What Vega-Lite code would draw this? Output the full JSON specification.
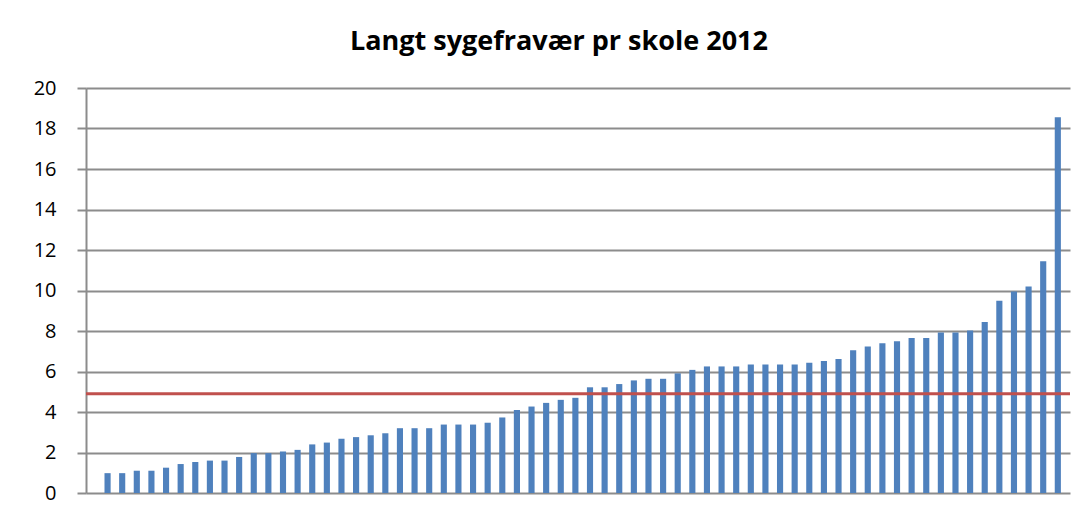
{
  "$schema": "https://vega.github.io/schema/vega-lite/v6.json",
  "width": 984,
  "height": 405,
  "autosize": {"type": "none"},
  "padding": {"left": 86, "top": 88, "right": 18, "bottom": 21},
  "background": "white",
  "config": {"view": {"stroke": null}, "font": "Open Sans"},
  "title": {
    "text": "Langt sygefravær pr skole 2012",
    "font": "Open Sans",
    "fontSize": 27,
    "fontWeight": "bold",
    "color": "#000000",
    "anchor": "middle",
    "dx": -19,
    "offset": 22
  },
  "data": {
    "values": [
      {"skole": 1, "fravaer": 0.98}, {"skole": 2, "fravaer": 0.98}, {"skole": 3, "fravaer": 1.1},
      {"skole": 4, "fravaer": 1.1}, {"skole": 5, "fravaer": 1.25}, {"skole": 6, "fravaer": 1.43},
      {"skole": 7, "fravaer": 1.53}, {"skole": 8, "fravaer": 1.6}, {"skole": 9, "fravaer": 1.6},
      {"skole": 10, "fravaer": 1.78}, {"skole": 11, "fravaer": 1.97}, {"skole": 12, "fravaer": 1.97},
      {"skole": 13, "fravaer": 2.05}, {"skole": 14, "fravaer": 2.13}, {"skole": 15, "fravaer": 2.4},
      {"skole": 16, "fravaer": 2.49}, {"skole": 17, "fravaer": 2.68}, {"skole": 18, "fravaer": 2.76},
      {"skole": 19, "fravaer": 2.85}, {"skole": 20, "fravaer": 2.95}, {"skole": 21, "fravaer": 3.2},
      {"skole": 22, "fravaer": 3.2}, {"skole": 23, "fravaer": 3.2}, {"skole": 24, "fravaer": 3.38},
      {"skole": 25, "fravaer": 3.38}, {"skole": 26, "fravaer": 3.38}, {"skole": 27, "fravaer": 3.47},
      {"skole": 28, "fravaer": 3.73}, {"skole": 29, "fravaer": 4.1}, {"skole": 30, "fravaer": 4.27},
      {"skole": 31, "fravaer": 4.45}, {"skole": 32, "fravaer": 4.6}, {"skole": 33, "fravaer": 4.7},
      {"skole": 34, "fravaer": 5.22}, {"skole": 35, "fravaer": 5.22}, {"skole": 36, "fravaer": 5.38},
      {"skole": 37, "fravaer": 5.56}, {"skole": 38, "fravaer": 5.64}, {"skole": 39, "fravaer": 5.64},
      {"skole": 40, "fravaer": 5.91}, {"skole": 41, "fravaer": 6.08}, {"skole": 42, "fravaer": 6.25},
      {"skole": 43, "fravaer": 6.25}, {"skole": 44, "fravaer": 6.25}, {"skole": 45, "fravaer": 6.35},
      {"skole": 46, "fravaer": 6.35}, {"skole": 47, "fravaer": 6.35}, {"skole": 48, "fravaer": 6.35},
      {"skole": 49, "fravaer": 6.43}, {"skole": 50, "fravaer": 6.52}, {"skole": 51, "fravaer": 6.62},
      {"skole": 52, "fravaer": 7.05}, {"skole": 53, "fravaer": 7.23}, {"skole": 54, "fravaer": 7.4},
      {"skole": 55, "fravaer": 7.5}, {"skole": 56, "fravaer": 7.66}, {"skole": 57, "fravaer": 7.66},
      {"skole": 58, "fravaer": 7.92}, {"skole": 59, "fravaer": 7.92}, {"skole": 60, "fravaer": 8.02},
      {"skole": 61, "fravaer": 8.45}, {"skole": 62, "fravaer": 9.5}, {"skole": 63, "fravaer": 9.95},
      {"skole": 64, "fravaer": 10.2}, {"skole": 65, "fravaer": 11.45}, {"skole": 66, "fravaer": 18.55}
    ]
  },
  "layer": [
    {
      "mark": {"type": "bar", "color": "#4f81bd"},
      "encoding": {
        "x": {
          "field": "skole",
          "type": "ordinal",
          "sort": null,
          "scale": {"paddingInner": 0.58, "paddingOuter": 0.944, "align": 0.67},
          "axis": null
        },
        "y": {
          "field": "fravaer",
          "type": "quantitative",
          "scale": {"domain": [0, 20], "nice": false},
          "axis": {
            "title": null,
            "values": [0, 2, 4, 6, 8, 10, 12, 14, 16, 18, 20],
            "grid": true,
            "gridColor": "#8c8c8c",
            "gridWidth": 2,
            "gridOpacity": 1,
            "domain": true,
            "domainColor": "#8c8c8c",
            "domainWidth": 2,
            "ticks": true,
            "tickColor": "#8c8c8c",
            "tickWidth": 2,
            "tickSize": 9,
            "labelFont": "Open Sans",
            "labelFontSize": 20,
            "labelColor": "#000000",
            "labelPadding": 21
          }
        }
      }
    },
    {
      "data": {"values": [{"gennemsnit": 4.9}]},
      "mark": {"type": "rule", "color": "#c0504d", "strokeWidth": 3},
      "encoding": {
        "y": {"field": "gennemsnit", "type": "quantitative"}
      }
    }
  ]
}
